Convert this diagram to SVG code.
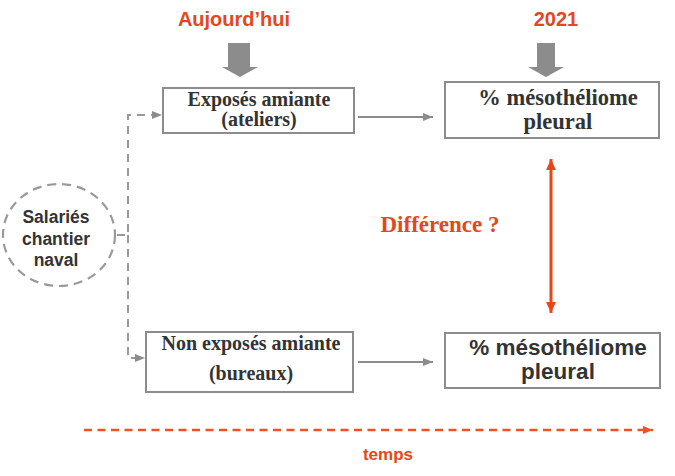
<svg xmlns="http://www.w3.org/2000/svg" width="675" height="476" viewBox="0 0 675 476">
<defs>
<marker id="ag" viewBox="0 0 10 10" refX="10" refY="5" markerWidth="10" markerHeight="10" markerUnits="userSpaceOnUse" orient="auto"><path d="M0,1 L10,5 L0,9 Z" fill="#8c8c8c"/></marker>
<marker id="ar" viewBox="0 0 10 10" refX="10" refY="5" markerWidth="11" markerHeight="11" markerUnits="userSpaceOnUse" orient="auto-start-reverse"><path d="M0,0.5 L10,5 L0,9.5 Z" fill="#e4471c"/></marker>
<marker id="at" viewBox="0 0 10 10" refX="10" refY="5" markerWidth="10" markerHeight="10" markerUnits="userSpaceOnUse" orient="auto"><path d="M0,1 L10,5 L0,9 Z" fill="#ee5224"/></marker>
</defs>
<style>
.box{fill:#fff;stroke:#8c8c8c;stroke-width:2}
.serif{font-family:"Liberation Serif","Times New Roman",serif;font-weight:bold;fill:#333;text-anchor:middle}
.sans{font-family:"Liberation Sans",Arial,sans-serif;font-weight:bold;fill:#333;text-anchor:middle}
.red{font-family:"Liberation Sans",Arial,sans-serif;font-weight:bold;fill:#e4471c;text-anchor:middle}
.conn{fill:none;stroke:#8c8c8c;stroke-width:2}
.dash{fill:none;stroke:#999;stroke-width:2;stroke-dasharray:8 6}
</style>
<rect width="675" height="476" fill="#fff"/>
<g id="labels">
<text class="red" x="234" y="26" font-size="20">Aujourd’hui</text>
<text class="red" x="556" y="26" font-size="20">2021</text>
<text x="440" y="232" font-family="Liberation Serif,Times New Roman,serif" font-weight="bold" font-size="23" fill="#e4471c" text-anchor="middle">Différence ?</text>
<text class="red" x="388" y="460" font-size="17">temps</text>
</g>
<g id="time-arrows">
<path d="M228,43 H250 V67 H258 L240,77 L222,67 H228 Z" fill="#8c8c8c"/>
<path d="M537,43 H555 V67 H564 L546,77 L528,67 H537 Z" fill="#8c8c8c"/>
</g>
<g id="salaries">
<ellipse cx="59" cy="235" rx="56" ry="51" fill="#fff" stroke="#999" stroke-width="2.2" stroke-dasharray="9 6"/>
<text class="sans" x="56" y="223" font-size="17.5">Salariés</text>
<text class="sans" x="56" y="244.5" font-size="17.5">chantier</text>
<text class="sans" x="56" y="266" font-size="17.5">naval</text>
</g>
<g id="exposes">
<rect class="box" x="163" y="88" width="191" height="45"/>
<text class="serif" x="259" y="106" font-size="20">Exposés amiante</text>
<text class="serif" x="259" y="126" font-size="20">(ateliers)</text>
</g>
<g id="meso-top">
<rect class="box" x="445" y="82" width="214" height="56"/>
<text class="serif" x="558" y="105" font-size="22.5">% mésothéliome</text>
<text class="serif" x="558" y="128.5" font-size="22.5">pleural</text>
</g>
<g id="non-exposes">
<rect class="box" x="146" y="332" width="207" height="60"/>
<text class="serif" x="251" y="350" font-size="20">Non exposés amiante</text>
<text class="serif" x="251" y="380" font-size="20">(bureaux)</text>
</g>
<g id="meso-bottom">
<rect class="box" x="445" y="333" width="215" height="55"/>
<text class="sans" x="558" y="355" font-size="22.5">% mésothéliome</text>
<text class="sans" x="558" y="378.5" font-size="22.5">pleural</text>
</g>
<g id="connectors">
<path class="dash" d="M117,235 H128 V115 H162" marker-end="url(#ag)"/>
<path class="dash" d="M128,235 V358 H145" marker-end="url(#ag)"/>
<path class="conn" d="M358,117 H433" marker-end="url(#ag)"/>
<path class="conn" d="M358,362 H433" marker-end="url(#ag)"/>
<path d="M551,159 V313" fill="none" stroke="#e4471c" stroke-width="3" marker-start="url(#ar)" marker-end="url(#ar)"/>
<path d="M84,430 H653" fill="none" stroke="#ee5224" stroke-width="2.5" stroke-dasharray="8 5.5" marker-end="url(#at)"/>
</g>
</svg>
